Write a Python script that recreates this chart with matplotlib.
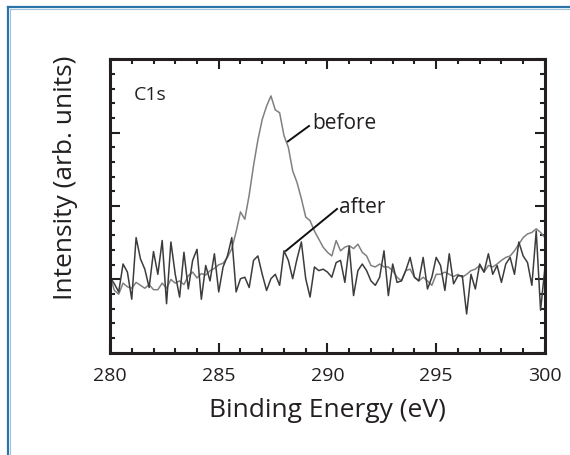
import numpy as np
import matplotlib
matplotlib.use("Agg")
import matplotlib.pyplot as plt
from matplotlib.lines import Line2D
from matplotlib.ticker import MultipleLocator

plt.rcParams['font.family'] = ['Open Sans', 'DejaVu Sans']

# binding energy grid (eV): start and step of the scan
energy_start = 280.0
energy_step = 0.2

# C1s intensity before cleaning (arb. units)
before = [
    1.05, 0.85, 0.80, 0.95, 0.90, 0.88, 0.96, 0.92, 0.88, 0.93,
    0.86, 0.86, 0.95, 0.88, 1.00, 0.95, 0.98, 0.93, 1.05, 1.10,
    1.02, 1.08, 1.06, 1.12, 1.15, 1.20, 1.22, 1.30, 1.42, 1.65,
    1.92, 1.82, 2.15, 2.55, 2.90, 3.18, 3.36, 3.50, 3.31, 3.27,
    2.96, 2.80, 2.48, 2.32, 2.10, 1.85, 1.80, 1.66, 1.55, 1.44,
    1.37, 1.32, 1.53, 1.39, 1.44, 1.46, 1.42, 1.48, 1.37, 1.32,
    1.19, 1.17, 1.21, 1.17, 1.17, 1.12, 1.03, 0.98, 1.12, 1.14,
    1.03, 0.98, 1.03, 0.98, 0.92, 1.07, 1.07, 1.10, 1.07, 1.04,
    1.07, 1.03, 1.07, 1.12, 1.14, 1.19, 1.10, 1.19, 1.17, 1.21,
    1.26, 1.30, 1.32, 1.39, 1.48, 1.57, 1.62, 1.64, 1.69, 1.64,
    1.57,
]

# C1s intensity after cleaning (arb. units)
after = [
    1.03, 0.94, 0.83, 1.21, 1.10, 0.73, 1.57, 1.28, 1.14, 0.89,
    1.38, 1.07, 1.53, 0.67, 1.51, 1.07, 0.76, 1.37, 0.87, 1.26,
    1.41, 0.73, 1.19, 0.98, 1.35, 0.83, 1.17, 1.32, 1.57, 0.83,
    1.01, 1.03, 0.89, 1.26, 1.32, 1.07, 0.85, 1.01, 1.07, 0.92,
    1.39, 1.26, 1.01, 1.28, 1.51, 1.01, 0.76, 1.17, 1.12, 1.14,
    1.10, 1.03, 1.23, 1.26, 0.96, 1.45, 0.78, 1.12, 1.21, 1.12,
    0.98, 0.92, 1.03, 1.39, 0.78, 1.21, 0.96, 0.98, 1.12, 1.30,
    1.03, 0.98, 1.30, 0.87, 1.03, 1.30, 1.19, 0.85, 1.35, 0.94,
    1.05, 1.05, 0.53, 1.07, 0.87, 1.21, 1.10, 1.35, 1.07, 1.19,
    0.96, 1.21, 1.30, 1.07, 1.51, 1.32, 1.23, 0.92, 1.66, 0.58,
    1.16,
]

energy = energy_start + energy_step * np.arange(len(before))

fig = plt.figure(figsize=(5.70, 4.56), dpi=100)
ax = fig.add_axes([0.193, 0.224, 0.763, 0.644])

ax.plot(energy, before, color='#808080', lw=1.1)
ax.plot(energy, after, color='#3c3c3c', lw=1.1)

ax.set_xlim(280, 300)
ax.set_ylim(0, 4)
ax.xaxis.set_major_locator(MultipleLocator(5))
ax.xaxis.set_minor_locator(MultipleLocator(1))
ax.yaxis.set_major_locator(MultipleLocator(1))
ax.yaxis.set_minor_locator(MultipleLocator(0.2))
ax.tick_params(which='both', direction='in', top=True, right=True,
               width=1.5, color='#231f20')
ax.tick_params(which='major', length=7.5, labelsize=14, pad=9.5,
               labelcolor='#231f20')
ax.tick_params(which='minor', length=3.8)
ax.set_yticklabels([])
for s in ax.spines.values():
    s.set_linewidth(2.2)
    s.set_color('#231f20')

ax.set_xlabel('Binding Energy (eV)', fontsize=19, color='#231f20', labelpad=9)
fig.text(66 / 570, 1 - 178 / 456, 'Intensity (arb. units)', rotation=90,
         ha='center', va='center', fontsize=19, color='#231f20')

ax.text(281.1, 3.52, 'C1s', fontsize=14, color='#231f20', va='center')
ax.text(289.3, 3.14, 'before', fontsize=15, color='#231f20', va='center')
ax.text(290.55, 1.99, 'after', fontsize=15, color='#231f20', va='center')
ax.plot([288.18, 289.15], [2.88, 3.09], color='#111111', lw=1.4)
ax.plot([288.09, 290.44], [1.39, 1.96], color='#111111', lw=1.4)

# page frame (top and left edge only)
fig.add_artist(Line2D([8 / 570, 8 / 570], [0, 1 - 8 / 456],
                      color='#2a74a8', lw=1.6))
fig.add_artist(Line2D([8 / 570, 1], [1 - 8 / 456, 1 - 8 / 456],
                      color='#2a74a8', lw=1.6))
fig.add_artist(Line2D([9.8 / 570, 9.8 / 570], [0, 1 - 9.8 / 456],
                      color='#9cc4df', lw=0.8))
fig.add_artist(Line2D([9.8 / 570, 1], [1 - 9.8 / 456, 1 - 9.8 / 456],
                      color='#9cc4df', lw=0.8))

fig.savefig('out.png', dpi=100)
